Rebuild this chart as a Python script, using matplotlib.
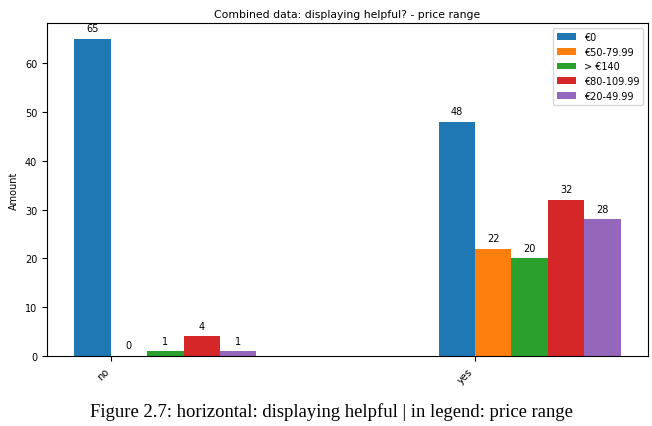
import matplotlib
matplotlib.use("Agg")
import matplotlib.pyplot as plt
import numpy as np

categories = ["no", "yes"]
series_names = ["€0", "€50-79.99", "> €140", "€80-109.99", "€20-49.99"]
values = {
    "€0": [65, 48],
    "€50-79.99": [0, 22],
    "> €140": [1, 20],
    "€80-109.99": [4, 32],
    "€20-49.99": [1, 28],
}
colors = ["#1f77b4", "#ff7f0e", "#2ca02c", "#d62728", "#9467bd"]

fig = plt.figure(figsize=(6.52, 4.27), dpi=100)
ax = fig.add_axes([0.072, 0.164, 0.922, 0.780])

x = np.arange(len(categories))
w = 0.1
for i, (name, c) in enumerate(zip(series_names, colors)):
    bars = ax.bar(x + (i - 1) * w, values[name], width=w, align="edge", color=c, label=name)
    for b, v in zip(bars, values[name]):
        ax.annotate(str(v), (b.get_x() + b.get_width() / 2, b.get_height()),
                    xytext=(0, 4), textcoords="offset points", ha="center", va="bottom", fontsize=7)

ax.set_xticks(x)
ax.set_xticklabels(categories, rotation=45, ha="right", fontsize=7)
ax.tick_params(axis="y", labelsize=7)
ax.set_ylabel("Amount", fontsize=7)
ax.set_title("Combined data: displaying helpful? - price range", fontsize=7.8, pad=4)
ax.legend(fontsize=7, loc="upper right")

fig.text(0.508, 0.035, "Figure 2.7: horizontal: displaying helpful | in legend: price range",
         ha="center", va="center", family="Liberation Serif", fontsize=13.4)

fig.savefig("out.png", dpi=100)
